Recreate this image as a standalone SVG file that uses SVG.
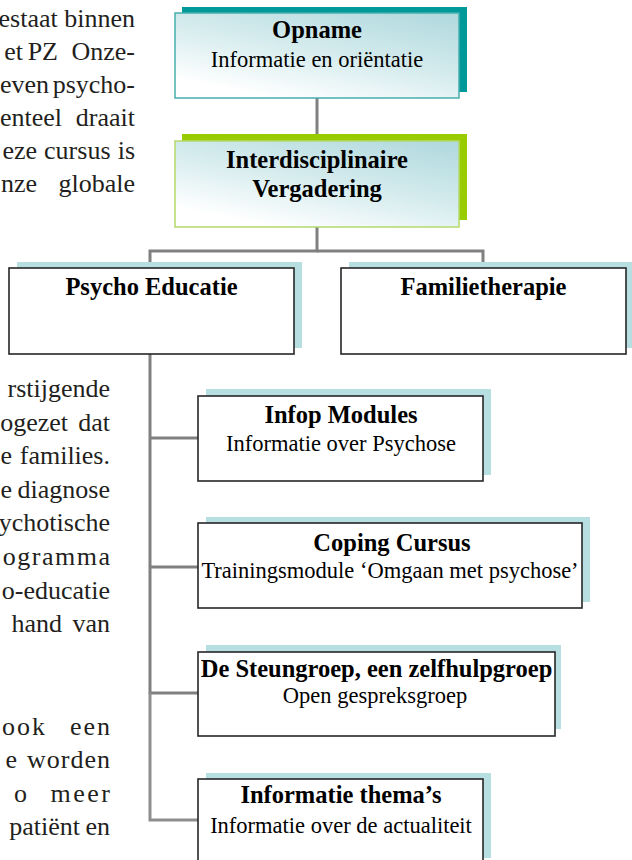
<svg xmlns="http://www.w3.org/2000/svg" width="632" height="860" viewBox="0 0 632 860">
<defs>
<linearGradient id="gTop" x1="1" y1="0" x2="0.35" y2="1">
<stop offset="0" stop-color="#aed8dd"/>
<stop offset="0.55" stop-color="#d6ecee"/>
<stop offset="1" stop-color="#ffffff"/>
</linearGradient>
</defs>
<style>
.body{font-family:"Liberation Serif","Times New Roman",serif;font-size:26px;fill:#231f20;text-anchor:end}
.t{font-family:"Liberation Serif","Times New Roman",serif;font-size:24.5px;font-weight:bold;fill:#000;text-anchor:middle}
.s{font-family:"Liberation Serif","Times New Roman",serif;font-size:22.5px;fill:#000;text-anchor:middle}
.conn{stroke:#808080;stroke-width:3;fill:none}
.conn2{stroke:#8e8e8e;stroke-width:3;fill:none}
.sh{fill:#b7dfe2}
.box{fill:#fff;stroke:#262626;stroke-width:1.6}
</style>
<rect width="632" height="860" fill="#fff"/>
<g id="bodytext">
<text class="body" y="27" x="135">estaat binnen</text>
<text class="body" y="60"><tspan x="23">et</tspan><tspan x="58">PZ</tspan><tspan x="135">Onze-</tspan></text>
<text class="body" y="93"><tspan x="49">even</tspan><tspan x="135">psycho-</tspan></text>
<text class="body" y="126"><tspan x="62">enteel</tspan><tspan x="135">draait</tspan></text>
<text class="body" y="159"><tspan x="37">eze</tspan><tspan x="110.5">cursus</tspan><tspan x="135">is</tspan></text>
<text class="body" y="192"><tspan x="37">nze</tspan><tspan x="135">globale</tspan></text>
<text class="body" y="397" x="110">rstijgende</text>
<text class="body" y="431"><tspan x="68">ogezet</tspan><tspan x="110">dat</tspan></text>
<text class="body" y="464"><tspan x="12">e</tspan><tspan x="110">families.</tspan></text>
<text class="body" y="498"><tspan x="12">e</tspan><tspan x="110">diagnose</tspan></text>
<text class="body" y="531" x="110">ychotische</text>
<text class="body" y="565" x="111.5" letter-spacing="1.5">ogramma</text>
<text class="body" y="599" x="110">o-educatie</text>
<text class="body" y="632"><tspan x="62">hand</tspan><tspan x="110">van</tspan></text>
<text class="body" y="735" letter-spacing="2"><tspan x="47">ook</tspan><tspan x="112">een</tspan></text>
<text class="body" y="768" letter-spacing="1"><tspan x="18">e</tspan><tspan x="111">worden</tspan></text>
<text class="body" y="802" letter-spacing="2.5"><tspan x="29.5">o</tspan><tspan x="112.5">meer</tspan></text>
<text class="body" y="835"><tspan x="80">patiënt</tspan><tspan x="110">en</tspan></text>
</g>
<g id="connectors">
<line class="conn" x1="317" y1="98" x2="317" y2="141"/>
<polyline class="conn" points="317,227 317,251 150,251 150,268"/>
<polyline class="conn" points="317,251 483,251 483,268"/>
<line class="conn" x1="150" y1="354" x2="150" y2="694"/>
<line class="conn" x1="150" y1="438" x2="198" y2="438"/>
<line class="conn" x1="150" y1="567" x2="198" y2="567"/>
<line class="conn" x1="150" y1="693" x2="198" y2="693"/>
<polyline class="conn2" points="150,693 150,820 198,820"/>
</g>
<g id="opname">
<rect x="182" y="7" width="285" height="85" fill="#009999"/>
<rect x="175" y="13" width="284" height="85" fill="url(#gTop)" stroke="#46aeac" stroke-width="1.5"/>
<text class="t" x="317" y="38">Opname</text>
<text class="s" x="317" y="67">Informatie en oriëntatie</text>
</g>
<g id="interdisciplinaire">
<rect x="182" y="134" width="285" height="86" fill="#99cc00"/>
<rect x="175" y="141" width="284" height="86" fill="url(#gTop)" stroke="#b5d96a" stroke-width="1.5"/>
<text class="t" x="317" y="168">Interdisciplinaire</text>
<text class="t" x="317" y="197">Vergadering</text>
</g>
<g id="psycho-educatie">
<rect class="sh" x="17" y="262" width="285" height="86"/>
<rect class="box" x="9" y="268" width="285" height="86"/>
<text class="t" x="151.5" y="295">Psycho Educatie</text>
</g>
<g id="familietherapie">
<rect class="sh" x="349" y="262" width="285" height="86"/>
<rect class="box" x="341" y="268" width="285" height="86"/>
<text class="t" x="483.5" y="295">Familietherapie</text>
</g>
<g id="infop">
<rect class="sh" x="206" y="389" width="285" height="86"/>
<rect class="box" x="198" y="396" width="285" height="85"/>
<text class="t" x="341" y="423">Infop Modules</text>
<text class="s" x="341" y="451">Informatie over Psychose</text>
</g>
<g id="coping">
<rect class="sh" x="206" y="517" width="384" height="85"/>
<rect class="box" x="198" y="523" width="384" height="85"/>
<text class="t" x="392" y="551">Coping Cursus</text>
<text class="s" x="390" y="578">Trainingsmodule ‘Omgaan met psychose’</text>
</g>
<g id="steungroep">
<rect class="sh" x="206" y="645" width="355" height="84"/>
<rect class="box" x="198" y="652" width="357" height="84"/>
<text class="t" x="376.5" y="677">De Steungroep, een zelfhulpgroep</text>
<text class="s" x="375" y="703">Open gespreksgroep</text>
</g>
<g id="informatie-themas">
<rect class="sh" x="206" y="773" width="285" height="85"/>
<rect class="box" x="198" y="779" width="285" height="85"/>
<text class="t" x="341" y="803">Informatie thema’s</text>
<text class="s" x="341" y="833">Informatie over de actualiteit</text>
</g>
</svg>
